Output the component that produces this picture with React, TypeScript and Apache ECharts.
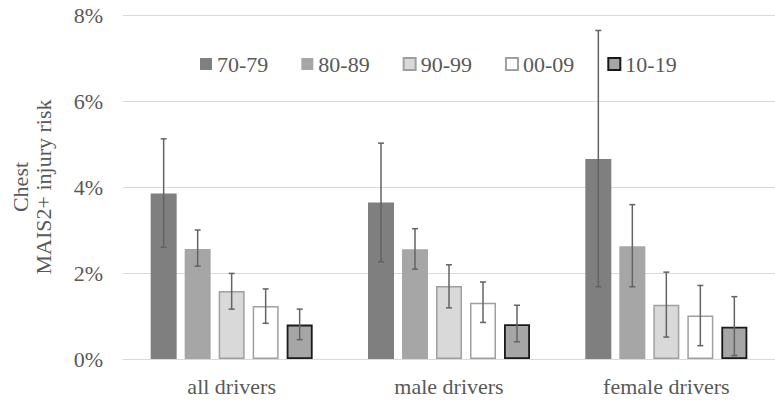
import React, { useEffect, useRef } from "react";
import * as echarts from "echarts";

const categories = ["all drivers", "male drivers", "female drivers"];
const decades = ["70-79", "80-89", "90-99", "00-09", "10-19"];

// risk in %, per decade, per category
const v7079 = [3.85, 3.64, 4.65];
const v8089 = [2.56, 2.55, 2.62];
const v9099 = [1.58, 1.70, 1.26];
const v0009 = [1.23, 1.31, 1.01];
const v1019 = [0.80, 0.81, 0.75];

const lo7079 = [2.60, 2.26, 1.68];
const hi7079 = [5.12, 5.02, 7.64];
const lo8089 = [2.16, 2.09, 1.68];
const hi8089 = [3.00, 3.03, 3.59];
const lo9099 = [1.16, 1.19, 0.51];
const hi9099 = [1.99, 2.19, 2.02];
const lo0009 = [0.83, 0.85, 0.31];
const hi0009 = [1.63, 1.79, 1.71];
const lo1019 = [0.45, 0.40, 0.08];
const hi1019 = [1.16, 1.25, 1.45];

const yTicks = [0, 2, 4, 6, 8];
const yTitleLines = ["Chest", "MAIS2+ injury risk"];

const FONT = "Liberation Serif";
const TEXT = "#595959";
const BAR_W = 26;
const BAR_GAP = 8;

export default function App() {
  const ref = useRef<HTMLDivElement>(null);

  useEffect(() => {
    if (!ref.current) return;
    const chart = echarts.init(ref.current, undefined, { renderer: "svg" });

    const values = [v7079, v8089, v9099, v0009, v1019];
    const lows = [lo7079, lo8089, lo9099, lo0009, lo1019];
    const highs = [hi7079, hi8089, hi9099, hi0009, hi1019];
    const styles = [
      { color: "#7f7f7f" },
      { color: "#a6a6a6" },
      { color: "#d9d9d9", borderColor: "#a0a0a0", borderWidth: 1.5 },
      { color: "#ffffff", borderColor: "#a0a0a0", borderWidth: 1.5 },
      { color: "#a6a6a6", borderColor: "#1a1a1a", borderWidth: 1.8 },
    ];

    const errData: number[][] = [];
    decades.forEach((_, s) => {
      categories.forEach((_, c) => {
        errData.push([c, s, lows[s][c], highs[s][c]]);
      });
    });

    const barSeries = decades.map((d, s) => ({
      name: d,
      type: "bar",
      data: values[s],
      barWidth: BAR_W,
      barGap: (BAR_GAP / BAR_W) * 100 + "%",
      itemStyle: styles[s],
      z: 2,
    }));

    const txt = { color: TEXT, fontSize: 22, fontFamily: FONT, fontWeight: "normal" as const };

    chart.setOption({
      animation: false,
      backgroundColor: "#ffffff",
      textStyle: { fontFamily: FONT },
      grid: { left: 123, top: 15, width: 660, bottom: 41, containLabel: false },
      legend: {
        data: decades,
        left: 195,
        top: 48,
        itemWidth: 12,
        itemHeight: 12,
        itemGap: 33,
        icon: "rect",
        formatter: (n: string) => "{t|" + n + "}",
        textStyle: { ...txt, rich: { t: { ...txt } } },
      },
      xAxis: {
        type: "category",
        data: categories,
        axisTick: { show: false },
        axisLine: { lineStyle: { color: "#d9d9d9", width: 1 } },
        axisLabel: { ...txt, margin: 16 },
      },
      yAxis: {
        type: "value",
        min: yTicks[0],
        max: yTicks[yTicks.length - 1],
        interval: 2,
        axisLabel: { ...txt, formatter: "{value}%", margin: 20 },
        splitLine: { lineStyle: { color: "#d9d9d9", width: 1 } },
        axisLine: { show: false },
        axisTick: { show: false },
      },
      graphic: [
        {
          type: "text",
          x: 31.5,
          y: 187,
          rotation: Math.PI / 2,
          style: {
            text: yTitleLines.join("\n"),
            fill: TEXT,
            font: "22px " + FONT,
            lineHeight: 23,
            align: "center",
            verticalAlign: "middle",
          },
        },
      ],
      series: [
        ...barSeries,
        {
          name: "err",
          type: "custom",
          data: errData,
          encode: { x: 0, y: [2, 3] },
          z: 5,
          renderItem: (params: any, api: any) => {
            const c = api.value(0);
            const s = api.value(1);
            const lo = api.value(2);
            const hi = api.value(3);
            const pLo = api.coord([c, lo]);
            const pHi = api.coord([c, hi]);
            const x = pLo[0] + (s - 2) * (BAR_W + BAR_GAP);
            const cap = 3;
            const st = { stroke: "#636363", lineWidth: 1.5 };
            return {
              type: "group",
              children: [
                { type: "line", shape: { x1: x, y1: pLo[1], x2: x, y2: pHi[1] }, style: st },
                { type: "line", shape: { x1: x - cap, y1: pLo[1], x2: x + cap, y2: pLo[1] }, style: st },
                { type: "line", shape: { x1: x - cap, y1: pHi[1], x2: x + cap, y2: pHi[1] }, style: st },
              ],
            };
          },
        },
      ],
    });

    return () => chart.dispose();
  }, []);

  return (
    <div
      ref={ref}
      style={{ position: "fixed", left: 0, top: 0, width: 775, height: 400 }}
    />
  );
}
